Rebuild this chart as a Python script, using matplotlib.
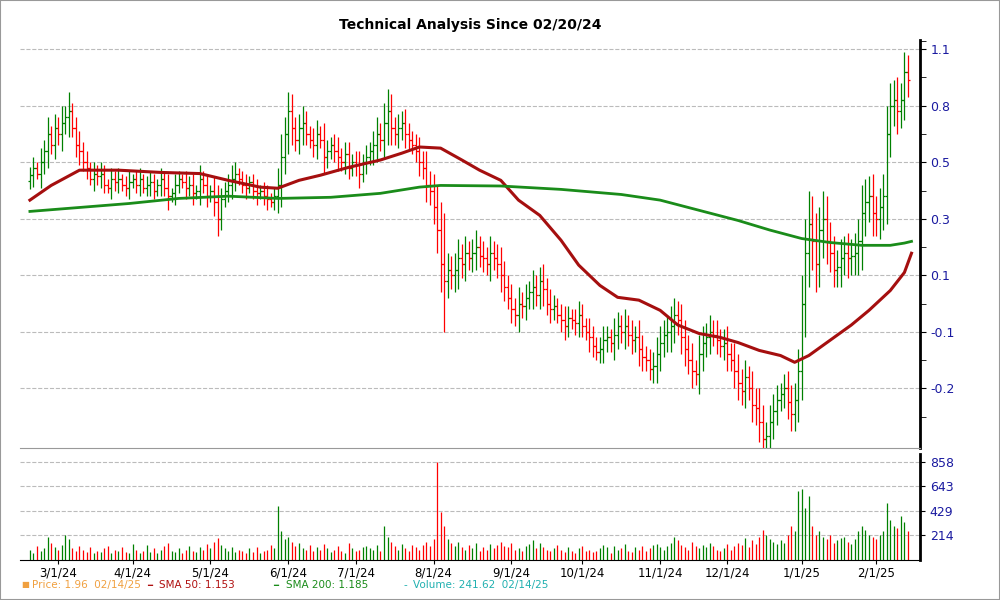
import matplotlib
matplotlib.use("Agg")
import matplotlib.pyplot as plt
import numpy as np
import pandas as pd
from pandas.tseries.holiday import USFederalHolidayCalendar
from pandas.tseries.offsets import CustomBusinessDay

close = [3.77,3.9,3.8,4.0,4.2, 4.5,4.3,4.6,4.5,4.7, 4.8,4.9,4.6,4.3,4.2, 4.0,3.9,3.7,3.8,3.75,
 3.8,3.6,3.55,3.7,3.65, 3.7,3.6,3.55,3.65,3.7, 3.6,3.7,3.55,3.6,3.65, 3.5,3.6,3.7,3.55,3.4,
 3.45,3.6,3.7,3.65,3.55, 3.6,3.45,3.5,3.7,3.6, 3.4,3.5,3.3,3.0,3.35, 3.5,3.6,3.7,3.8,3.7,
 3.6,3.55,3.65,3.5,3.45, 3.5,3.4,3.35,3.3,3.4, 3.6,4.1,4.5,4.9,4.6, 4.4,4.6,4.7,4.5,4.4,
 4.3,4.5,4.4,4.1,4.2, 4.3,4.2,4.1,4.0,4.15, 3.9,4.0,3.95,3.8,4.0, 4.1,4.2,4.3,4.5,4.4,
 4.7,4.9,4.6,4.5,4.6, 4.7,4.5,4.4,4.3,4.2, 4.0,3.9,3.6,3.5,3.2, 2.8,2.2,1.9,2.1,2.0,
 2.1,2.3,2.2,2.4,2.3, 2.4,2.5,2.35,2.3,2.2, 2.4,2.3,2.2,2.0,1.8, 1.6,1.4,1.3,1.5,1.45,
 1.6,1.7,1.8,1.65,1.9, 1.75,1.5,1.4,1.45,1.3, 1.2,1.1,1.25,1.2,1.15, 1.3,1.1,1.0,0.9,0.75,
 0.65,0.7,0.85,0.9,0.8, 0.95,1.1,1.0,1.1,0.95, 0.85,0.9,0.7,0.55,0.5, 0.35,0.4,0.6,0.8,0.95,
 1.0,1.1,1.3,1.2,0.9, 0.7,0.5,0.3,0.25,0.6, 0.8,0.9,1.0,0.95,0.85, 0.75,0.8,0.6,0.5,0.3,
 0.1,-0.05,0.2,0.0,-0.3, -0.35,-0.6,-0.9,-0.85,-0.6, -0.4,-0.2,-0.1,0.0,-0.25, -0.45,-0.2,0.3,1.5,2.4,
 2.9,2.6,2.2,2.8,3.0, 2.6,2.4,2.1,2.15,2.3, 2.4,2.3,2.35,2.4,2.6, 3.1,3.3,3.4,3.1,3.0,
 3.2,3.4,4.5,5.0,5.1, 4.9,5.1,5.6,5.45]

wick = [0.15,0.2,0.1,0.25,0.2, 0.3,0.15,0.25,0.2,0.3, 0.2,0.35,0.15,0.2,0.25, 0.15,0.2,0.1,0.2,0.15,
 0.2,0.15,0.1,0.2,0.15, 0.2,0.1,0.15,0.2,0.1, 0.15,0.2,0.1,0.15,0.2, 0.15,0.1,0.2,0.15,0.25,
 0.1,0.2,0.15,0.1,0.2, 0.15,0.2,0.1,0.25,0.15, 0.2,0.1,0.25,0.3,0.2, 0.15,0.2,0.25,0.2,0.1,
 0.15,0.2,0.1,0.15,0.2, 0.1,0.15,0.2,0.1,0.15, 0.3,0.4,0.3,0.35,0.3, 0.2,0.25,0.3,0.2,0.15,
 0.2,0.25,0.15,0.3,0.2, 0.15,0.2,0.25,0.15,0.2, 0.2,0.15,0.2,0.25,0.15, 0.2,0.15,0.25,0.3,0.2,
 0.35,0.4,0.3,0.2,0.25, 0.2,0.25,0.2,0.15,0.2, 0.25,0.2,0.3,0.25,0.3, 0.4,0.5,0.9,0.3,0.25,
 0.3,0.35,0.25,0.3,0.2, 0.25,0.3,0.2,0.25,0.2, 0.3,0.2,0.25,0.3,0.25, 0.2,0.25,0.2,0.3,0.2,
 0.25,0.2,0.3,0.2,0.25, 0.3,0.2,0.25,0.2,0.15, 0.2,0.25,0.2,0.15,0.2, 0.25,0.2,0.15,0.25,0.2,
 0.15,0.2,0.25,0.2,0.15, 0.3,0.25,0.2,0.3,0.2, 0.25,0.2,0.3,0.25,0.2, 0.2,0.25,0.3,0.3,0.25,
 0.3,0.35,0.3,0.25,0.3, 0.3,0.25,0.3,0.2,0.35, 0.3,0.25,0.3,0.2,0.25, 0.2,0.25,0.3,0.2,0.3,
 0.3,0.25,0.3,0.2,0.3, 0.3,0.35,0.3,0.25,0.3, 0.3,0.25,0.2,0.25,0.3, 0.3,0.3,0.4,0.5,0.6,
 0.6,0.5,0.5,0.4,0.5, 0.4,0.35,0.3,0.3,0.35, 0.3,0.35,0.3,0.35,0.4, 0.5,0.4,0.35,0.4,0.3,
 0.35,0.4,0.5,0.4,0.35, 0.4,0.3,0.35,0.3]

volume = [90,60,120,80,100, 200,150,110,90,130, 220,180,100,80,120, 90,70,110,60,80,
 70,100,120,60,90, 80,110,70,60,140, 90,60,80,130,70, 100,60,90,120,150,
 80,70,100,60,90, 120,80,70,110,90, 140,100,160,190,130, 100,80,110,70,90,
 80,60,100,70,110, 60,80,90,130,100, 470,250,180,200,160, 120,150,100,90,130,
 80,110,90,140,100, 70,90,120,80,60, 150,100,80,90,110, 120,100,90,130,80,
 300,200,160,120,90, 140,100,80,130,110, 90,130,160,120,180, 858,420,300,180,150,
 120,160,110,90,130, 100,150,80,110,90, 140,100,130,160,120, 110,150,90,100,80,
 120,140,170,100,150, 110,90,80,100,130, 90,70,110,80,60, 100,120,80,90,70,
 80,100,130,110,60, 120,90,100,140,80, 70,110,90,120,80, 100,130,140,110,90,
 120,150,200,170,130, 110,90,160,120,100, 130,110,150,120,90, 80,100,140,90,120,
 150,130,190,110,170, 140,200,260,220,180, 160,140,170,150,220, 300,250,600,620,450,
 560,300,220,250,200, 180,220,150,170,190, 200,160,140,180,250, 300,260,220,200,180,
 220,250,500,350,300, 280,380,330,250]

sma_days = [0,6,14,25,37,48,56,65,70,76,82,90,99,105,110,116,122,127,133,138,144,150,
            155,161,166,172,178,183,189,195,200,206,212,216,220,226,232,237,243,247,249]
sma50 = [3.33,3.59,3.86,3.86,3.82,3.80,3.68,3.56,3.54,3.68,3.77,3.91,4.04,4.16,4.27,4.25,
         4.04,3.86,3.68,3.33,3.06,2.62,2.18,1.82,1.61,1.56,1.38,1.12,0.97,0.90,0.81,0.67,
         0.58,0.46,0.58,0.85,1.12,1.38,1.73,2.05,2.39]
sma200_days = [0,14,28,42,56,70,85,99,110,116,133,150,167,178,189,200,209,218,226,235,243,247,249]
sma200 = [3.13,3.20,3.27,3.36,3.40,3.36,3.38,3.45,3.56,3.59,3.58,3.52,3.43,3.33,3.15,2.97,
          2.80,2.65,2.58,2.53,2.53,2.57,2.60]

price_ticks = [0,1,2,3,4,5,6]
price_labels = ["-0.2","-0.1","0.1","0.3","0.5","0.8","1.1"]
vol_ticks = [214,429,643,858]

n = len(close)
cbd = CustomBusinessDay(calendar=USFederalHolidayCalendar())
dates = pd.date_range("2024-02-20", periods=n, freq=cbd)
x = np.arange(n)
c = np.array(close)
o = np.concatenate([[c[0]-0.1], c[:-1]])
w = np.array(wick)
hi = np.maximum(o, c) + w
lo = np.minimum(o, c) - w
up = c >= o
cols = np.where(up, "#008000", "#ff0000")

fig = plt.figure(figsize=(10, 6), dpi=100)
fig.patches.append(plt.Rectangle((0, 0), 1, 1, transform=fig.transFigure,
                                 fill=False, edgecolor="#999999", lw=1.5))
ax = fig.add_axes([0.02, 0.253, 0.90, 0.68])
axv = fig.add_axes([0.02, 0.067, 0.90, 0.177], sharex=ax)

ax.vlines(x, lo, hi, colors=cols, lw=0.9)
ax.hlines(o, x - 0.6, x, colors=cols, lw=0.9)
ax.hlines(c, x, x + 0.6, colors=cols, lw=0.9)
ax.plot(sma_days, sma50, color="#a50f0f", lw=2.2)
ax.plot(sma200_days, sma200, color="#1a8c1a", lw=2.0)

ax.set_ylim(-1.06, 6.16)
ax.set_xlim(-2.8, 251.4)
ax.set_yticks(price_ticks)
ax.set_yticklabels(price_labels)
ax.set_yticks([t + 0.5 for t in price_ticks[:-1]] + [-0.5, 6.15], minor=True)
ax.yaxis.tick_right()
ax.tick_params(axis="y", which="both", colors="black", labelcolor="#1a1aa0",
               labelsize=9, direction="out", length=4)
ax.grid(axis="y", color="#bbbbbb", ls="--", lw=0.8)
for s in ["left", "top"]:
    ax.spines[s].set_visible(False)
ax.spines["right"].set_linewidth(2)
ax.spines["bottom"].set_color("#999999")
ax.tick_params(axis="x", bottom=False, labelbottom=False)
ax.set_title("Technical Analysis Since 02/20/24", fontsize=10, fontweight="bold", pad=8)

v = np.array(volume)
axv.vlines(x, 0, v, colors=cols, lw=0.9)
axv.set_ylim(0, 930)
axv.set_yticks(vol_ticks)
axv.yaxis.tick_right()
axv.tick_params(axis="y", colors="black", labelcolor="#1a1aa0", labelsize=9)
axv.grid(axis="y", color="#bbbbbb", ls="--", lw=0.8)
for s in ["left", "top"]:
    axv.spines[s].set_visible(False)
axv.spines["right"].set_linewidth(2)

month_starts = pd.date_range("2024-03-01", "2025-02-01", freq="MS")
mt, ml = [], []
for m in month_starts:
    idx = int(np.searchsorted(dates.values, np.datetime64(m)))
    mt.append(idx)
    ml.append(f"{m.month}/{m.day}/{m.strftime('%y')}")
axv.set_xticks(mt)
axv.set_xticklabels(ml, fontsize=8.5)
axv.tick_params(axis="x", length=3, pad=2)

ly = 0.025
fs = 7.5
fig.text(0.021, ly, "■", color="#f0a040", fontsize=6, va="center")
fig.text(0.032, ly, "Price: 1.96  02/14/25", color="#f0a040", fontsize=fs, va="center")
fig.text(0.147, ly, "━", color="#b01010", fontsize=6, va="center")
fig.text(0.159, ly, "SMA 50: 1.153", color="#b01010", fontsize=fs, va="center")
fig.text(0.273, ly, "━", color="#1a8c1a", fontsize=6, va="center")
fig.text(0.286, ly, "SMA 200: 1.185", color="#1a8c1a", fontsize=fs, va="center")
fig.text(0.403, ly, "-", color="#20b0b0", fontsize=fs, va="center")
fig.text(0.413, ly, "Volume: 241.62  02/14/25", color="#20b0b0", fontsize=fs, va="center")

fig.savefig("out.png", dpi=100)
